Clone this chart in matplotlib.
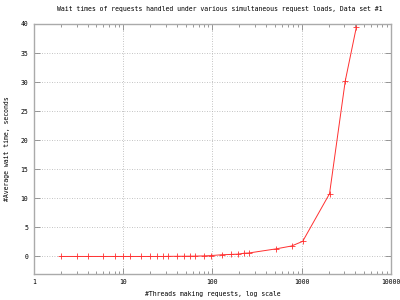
import matplotlib
matplotlib.use("Agg")
import matplotlib.pyplot as plt
from matplotlib.ticker import LogLocator, FixedLocator, NullFormatter

threads = [2, 3, 4, 6, 8, 10, 12, 16, 20, 24, 28, 32, 40, 48, 56, 64, 80, 96,
           128, 160, 192, 224, 256, 512, 768, 1024, 2048, 3072, 4096]
wait = [0.0, 0.0, 0.0, 0.0, 0.0, 0.0, 0.0, 0.0, 0.0, 0.0, 0.0, 0.02, 0.03, 0.04,
        0.05, 0.06, 0.1, 0.15, 0.3, 0.35, 0.4, 0.55, 0.6, 1.3, 1.8, 2.6,
        10.8, 30.2, 39.5]

plt.rcParams['font.family'] = 'DejaVu Sans Mono'
plt.rcParams['font.size'] = 4.7

fig = plt.figure(figsize=(4, 3), dpi=100)
ax = fig.add_axes([0.085, 0.087, 0.8925, 0.833])

ax.plot(threads, wait, color='#ff3030', lw=0.7, marker='+', ms=4, mew=0.6)

ax.set_xscale('log')
ax.set_xlim(1, 10000)
ax.set_ylim(-3, 40)
ax.xaxis.set_minor_locator(LogLocator(base=10, subs=range(2, 10), numticks=20))
ax.xaxis.set_minor_formatter(NullFormatter())
ax.set_xticks([1, 10, 100, 1000, 10000])
ax.set_xticklabels(['1', '10', '100', '1000', '10000'])
ax.yaxis.set_major_locator(FixedLocator([0, 5, 10, 15, 20, 25, 30, 35, 40]))

ax.grid(True, which='major', color='#b0b0b0', ls=(0, (1, 2)), lw=0.6)
ax.tick_params(which='both', direction='in', top=True, right=True,
               colors='#888888', labelcolor='black', pad=4)
ax.tick_params(which='major', length=4, width=0.6)
ax.tick_params(which='minor', length=2, width=0.6)
for s in ax.spines.values():
    s.set_color('#aaaaaa')
    s.set_linewidth(1.0)

ax.set_title('Wait times of requests handled under various simultaneous request loads, Data set #1',
             fontsize=4.7, pad=9, x=0.52)
ax.set_xlabel('#Threads making requests, log scale', labelpad=4)
ax.set_ylabel('#Average wait time, seconds', labelpad=8)

fig.savefig('out.png', dpi=100)
